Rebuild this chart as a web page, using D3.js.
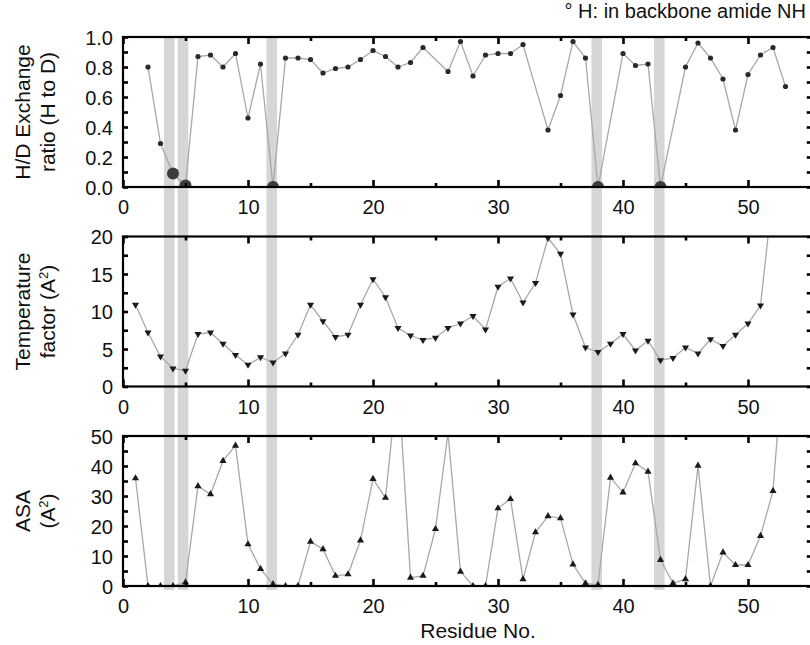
<!DOCTYPE html>
<html><head><meta charset="utf-8">
<script src="https://cdn.jsdelivr.net/npm/d3@7"></script>
<style>
html,body{margin:0;padding:0;background:#fff;}
svg{display:block;font-family:"Liberation Sans",Arial,Helvetica,sans-serif;}
</style></head>
<body><svg id="chart" width="810" height="645"></svg>
<script>
// ---- data ----
const hdResidues = [2,3,4,5,6,7,8,9,10,11,12,13,14,15,16,17,18,19,20,21,22,23,24,26,27,28,29,30,31,32,34,35,36,37,38,40,41,42,43,45,46,47,48,49,50,51,52,53];
const hdRatio = [0.80,0.29,0.09,0.01,0.87,0.88,0.80,0.89,0.46,0.82,0.0,0.86,0.86,0.85,0.76,0.79,0.80,0.85,0.91,0.87,0.80,0.83,0.93,0.77,0.97,0.74,0.88,0.89,0.89,0.95,0.38,0.61,0.97,0.86,0.0,0.89,0.81,0.82,0.0,0.80,0.96,0.86,0.72,0.38,0.75,0.88,0.93,0.67];
const hbondResidues = [4,5,12,38,43];

const tfResidues = d3.range(1,53);
const tempFactor = [10.9,7.2,4.0,2.4,2.1,7.0,7.2,5.7,4.2,2.9,
                    3.9,3.2,4.4,6.9,10.9,8.7,6.6,6.9,10.9,14.3,
                    11.9,7.8,6.8,6.2,6.5,7.8,8.4,9.4,7.6,13.3,
                    14.4,11.2,13.8,19.8,17.7,9.6,5.2,4.6,5.7,7.0,
                    4.8,6.1,3.5,3.8,5.2,4.4,6.3,5.4,6.9,8.4,
                    10.8,26];

const asaResidues = d3.range(1,54);
const asa = [35.9,0,0,0,1.2,33.3,30.6,41.7,46.8,13.9,
             5.7,0.6,0,0,14.8,12.3,3.4,3.9,15.2,35.7,
             29.4,70,2.8,3.4,19,51,4.8,0,0,25.9,
             29,2.3,17.9,23.3,22.6,7.2,0.9,0.4,36.1,31.2,
             40.9,38.1,8.7,0.9,2.3,40.1,0,11.2,7,7,
             16.7,31.7,85];

const bandCenters = [3.7,4.8,11.9,37.9,42.9];
const bandWidth = 0.85;

const xTicksMajor = [0,10,20,30,40,50];
const xTicksMinor = [5,15,25,35,45];
const hdTicks = [0,0.1,0.2,0.3,0.4,0.5,0.6,0.7,0.8,0.9,1.0];
const hdLabels = [0,0.2,0.4,0.6,0.8,1.0];
const tfTicks = [0,2.5,5,7.5,10,12.5,15,17.5,20];
const tfLabels = [0,5,10,15,20];
const asaTicks = [0,5,10,15,20,25,30,35,40,45,50];
const asaLabels = [0,10,20,30,40,50];

// ---- layout ----
const svg = d3.select("#chart");
const L = 123;
const x = d3.scaleLinear().domain([0,55]).range([L,810.5]);
const R = x(55.1);
const panelH = 150;
const panels = [
  {top:37, domain:[0,1], ticks:hdTicks, labels:hdLabels, fmt:d3.format(".1f"),
   res:hdResidues, vals:hdRatio, marker:"circle", title:["H/D Exchange","ratio (H to D)"]},
  {top:236.5, domain:[0,20], ticks:tfTicks, labels:tfLabels, fmt:d3.format("d"),
   res:tfResidues, vals:tempFactor, marker:"down", title:["Temperature","factor (A2)"]},
  {top:436, domain:[0,50], ticks:asaTicks, labels:asaLabels, fmt:d3.format("d"),
   res:asaResidues, vals:asa, marker:"up", title:["ASA","(A2)"]}
];

// bands
svg.append("g").selectAll("rect").data(bandCenters).join("rect")
  .attr("x", d => x(d - bandWidth/2))
  .attr("width", d => x(d + bandWidth/2) - x(d - bandWidth/2))
  .attr("y", 38).attr("height", 590 - 38)
  .attr("fill", "#d6d6d6");

const lineColor = "#a8a8a8";
const textColor = "#111";

panels.forEach((p, i) => {
  const y = d3.scaleLinear().domain(p.domain).range([p.top + panelH, p.top]);
  const g = svg.append("g");
  const clipId = "clip" + i;
  svg.append("clipPath").attr("id", clipId).append("rect")
    .attr("x", L).attr("y", p.top).attr("width", R - L).attr("height", panelH);

  const pts = p.res.map((r, k) => ({r, v: p.vals[k]}));
  const plot = g.append("g").attr("clip-path", `url(#${clipId})`);
  plot.append("path").datum(pts)
    .attr("fill", "none").attr("stroke", lineColor).attr("stroke-width", 1.3)
    .attr("d", d3.line().x(d => x(d.r)).y(d => y(d.v)));

  if (p.marker === "circle") {
    plot.selectAll("circle.s").data(pts.filter(d => !hbondResidues.includes(d.r))).join("circle")
      .attr("cx", d => x(d.r)).attr("cy", d => y(d.v)).attr("r", 2.6).attr("fill", "#2a2a2a");
    plot.selectAll("circle.b").data(pts.filter(d => hbondResidues.includes(d.r))).join("circle")
      .attr("cx", d => x(d.r)).attr("cy", d => y(d.v)).attr("r", 6).attr("fill", "#3c3c3c");
  } else {
    const sym = d3.symbol().type(d3.symbolTriangle).size(22);
    plot.selectAll("path.m").data(pts).join("path")
      .attr("d", sym)
      .attr("transform", d => `translate(${x(d.r)},${y(d.v)})` + (p.marker === "down" ? " rotate(180)" : ""))
      .attr("fill", "#1a1a1a");
  }

  // frame
  g.append("rect").attr("x", L).attr("y", p.top).attr("width", R - L).attr("height", panelH)
    .attr("fill", "none").attr("stroke", "#000").attr("stroke-width", 2.2);

  // left axis
  const la = g.append("g").attr("transform", `translate(${L},0)`)
    .call(d3.axisLeft(y).tickValues(p.ticks).tickSize(-5).tickPadding(10)
      .tickFormat(d => p.labels.some(l => Math.abs(l - d) < 1e-9) ? p.fmt(d) : ""));
  // right axis
  const ra = g.append("g").attr("transform", `translate(${R},0)`)
    .call(d3.axisRight(y).tickValues(p.ticks).tickSize(-5).tickFormat(""));
  // bottom axis
  const ba = g.append("g").attr("transform", `translate(0,${p.top + panelH})`)
    .call(d3.axisBottom(x).tickValues(xTicksMajor).tickSize(-7).tickFormat(d3.format("d")));
  const bm = g.append("g").attr("transform", `translate(0,${p.top + panelH})`)
    .call(d3.axisBottom(x).tickValues(xTicksMinor).tickSize(-4).tickFormat(""));
  // top axis
  const ta = g.append("g").attr("transform", `translate(0,${p.top})`)
    .call(d3.axisTop(x).tickValues(xTicksMajor).tickSize(-7).tickFormat(""));
  const tm = g.append("g").attr("transform", `translate(0,${p.top})`)
    .call(d3.axisTop(x).tickValues(xTicksMinor).tickSize(-4).tickFormat(""));

  [la, ra, ba, bm, ta, tm].forEach(a => {
    a.select(".domain").remove();
    a.selectAll(".tick line").attr("stroke", "#000").attr("stroke-width", 2.6);
    a.selectAll("text").attr("fill", textColor).style("font-size", "20px")
      .style("font-family", "'Liberation Sans',Arial,sans-serif");
  });
  ba.selectAll("text").attr("dy", null).attr("y", 27);
  la.selectAll("text").attr("dy", "0.36em");

  // y title
  const cy = p.top + panelH / 2;
  const xs = [22, 47];
  p.title.forEach((t, k) => {
    const tx = svg.append("text")
      .attr("transform", `translate(${xs[k]},${cy}) rotate(-90)`)
      .attr("text-anchor", "middle").attr("dy", "0.36em")
      .attr("fill", textColor).style("font-size", "21px");
    if (t.includes("A2")) {
      const parts = t.split("A2");
      tx.append("tspan").text(parts[0] + "A");
      tx.append("tspan").text("2").attr("baseline-shift", "super").style("font-size", "13px");
      tx.append("tspan").text(parts[1]);
    } else {
      tx.text(t);
    }
  });
});

// x title
svg.append("text").attr("x", 478).attr("y", 638).attr("text-anchor", "middle")
  .attr("fill", textColor).style("font-size", "21px").text("Residue No.");

// legend note
svg.append("text").attr("x", 806).attr("y", 18).attr("text-anchor", "end")
  .attr("fill", textColor).style("font-size", "20px").text("° H: in backbone amide NH");
</script>
</body></html>
